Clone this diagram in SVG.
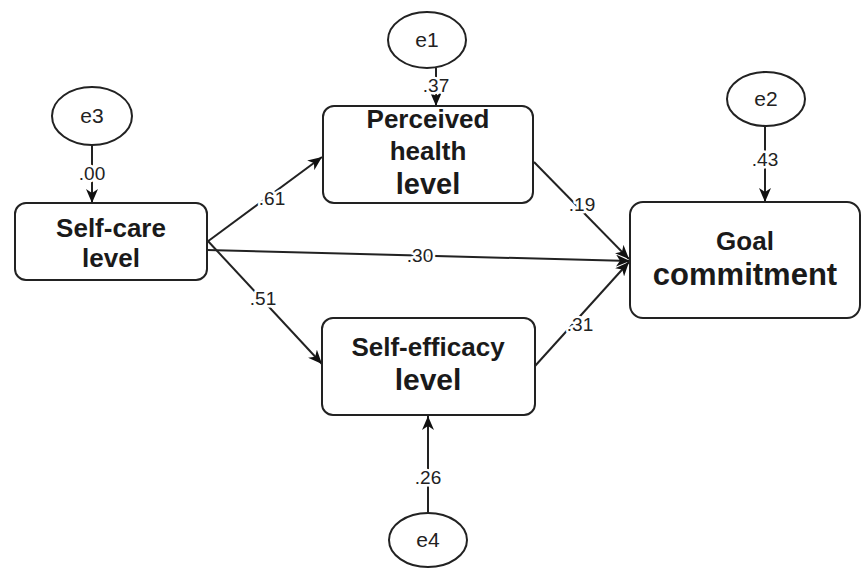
<svg xmlns="http://www.w3.org/2000/svg" width="863" height="568" viewBox="0 0 863 568">
<style>
.box{fill:#fff;stroke:#222;stroke-width:2}
.err{fill:#fff;stroke:#222;stroke-width:2}
.t{font-family:"Liberation Sans",Arial,sans-serif;font-weight:bold;fill:#1a1a1a;text-anchor:middle}
.e{font-family:"Liberation Sans",Arial,sans-serif;font-size:21px;fill:#222;text-anchor:middle}
.lbl{font-family:"Liberation Sans",Arial,sans-serif;font-size:19px;fill:#222;text-anchor:middle;stroke:#fff;stroke-width:5;paint-order:stroke;stroke-linejoin:round}
.c{stroke:#222;stroke-width:2;fill:none;marker-end:url(#ah)}
</style>
<defs>
<marker id="ah" markerUnits="userSpaceOnUse" markerWidth="15" markerHeight="12" refX="14" refY="6" orient="auto">
<path d="M0,0 L14,6 L0,12 L4,6 z" fill="#111"/>
</marker>
</defs>
<rect width="863" height="568" fill="#fff"/>
<g id="connectors">
<line class="c" x1="92" y1="145" x2="92" y2="203"/>
<line class="c" x1="436" y1="68" x2="436" y2="106"/>
<line class="c" x1="765" y1="126" x2="765" y2="202"/>
<line class="c" x1="428" y1="512" x2="428" y2="416"/>
<line class="c" x1="207" y1="242" x2="322" y2="157"/>
<line class="c" x1="207" y1="250" x2="630" y2="261"/>
<line class="c" x1="207" y1="240" x2="322" y2="364"/>
<line class="c" x1="534" y1="162" x2="629" y2="259"/>
<line class="c" x1="535" y1="366" x2="629" y2="262"/>
<text class="lbl" x="92" y="180">.00</text>
<text class="lbl" x="436" y="92">.37</text>
<text class="lbl" x="765" y="166">.43</text>
<text class="lbl" x="428" y="484">.26</text>
<text class="lbl" x="272" y="205">.61</text>
<text class="lbl" x="263" y="305">.51</text>
<text class="lbl" x="420" y="262">.30</text>
<text class="lbl" x="582" y="211">.19</text>
<text class="lbl" x="580" y="331">.31</text>
</g>
<g id="e3"><ellipse class="err" cx="92" cy="116" rx="40" ry="29"/><text class="e" x="92" y="123">e3</text></g>
<g id="e1"><ellipse class="err" cx="427" cy="40" rx="39" ry="28"/><text class="e" x="427" y="47">e1</text></g>
<g id="e2"><ellipse class="err" cx="766" cy="99" rx="39" ry="27"/><text class="e" x="766" y="106">e2</text></g>
<g id="e4"><ellipse class="err" cx="428" cy="540" rx="39" ry="27"/><text class="e" x="428" y="547">e4</text></g>
<g id="selfcare"><rect class="box" x="15" y="203" width="192" height="77" rx="11"/>
<text class="t" x="111" y="237" font-size="26">Self-care</text><text class="t" x="111" y="267" font-size="26">level</text></g>
<g id="perceived"><rect class="box" x="323" y="106" width="210" height="97" rx="11"/>
<text class="t" x="428" y="128" font-size="26">Perceived</text><text class="t" x="428" y="160" font-size="26">health</text><text class="t" x="428" y="194" font-size="29">level</text></g>
<g id="selfefficacy"><rect class="box" x="322" y="318" width="213" height="97" rx="11"/>
<text class="t" x="428" y="356" font-size="26">Self-efficacy</text><text class="t" x="428" y="390" font-size="30">level</text></g>
<g id="goal"><rect class="box" x="630" y="202" width="230" height="116" rx="13"/>
<text class="t" x="745" y="250" font-size="26">Goal</text><text class="t" x="745" y="285" font-size="31">commitment</text></g>
</svg>
